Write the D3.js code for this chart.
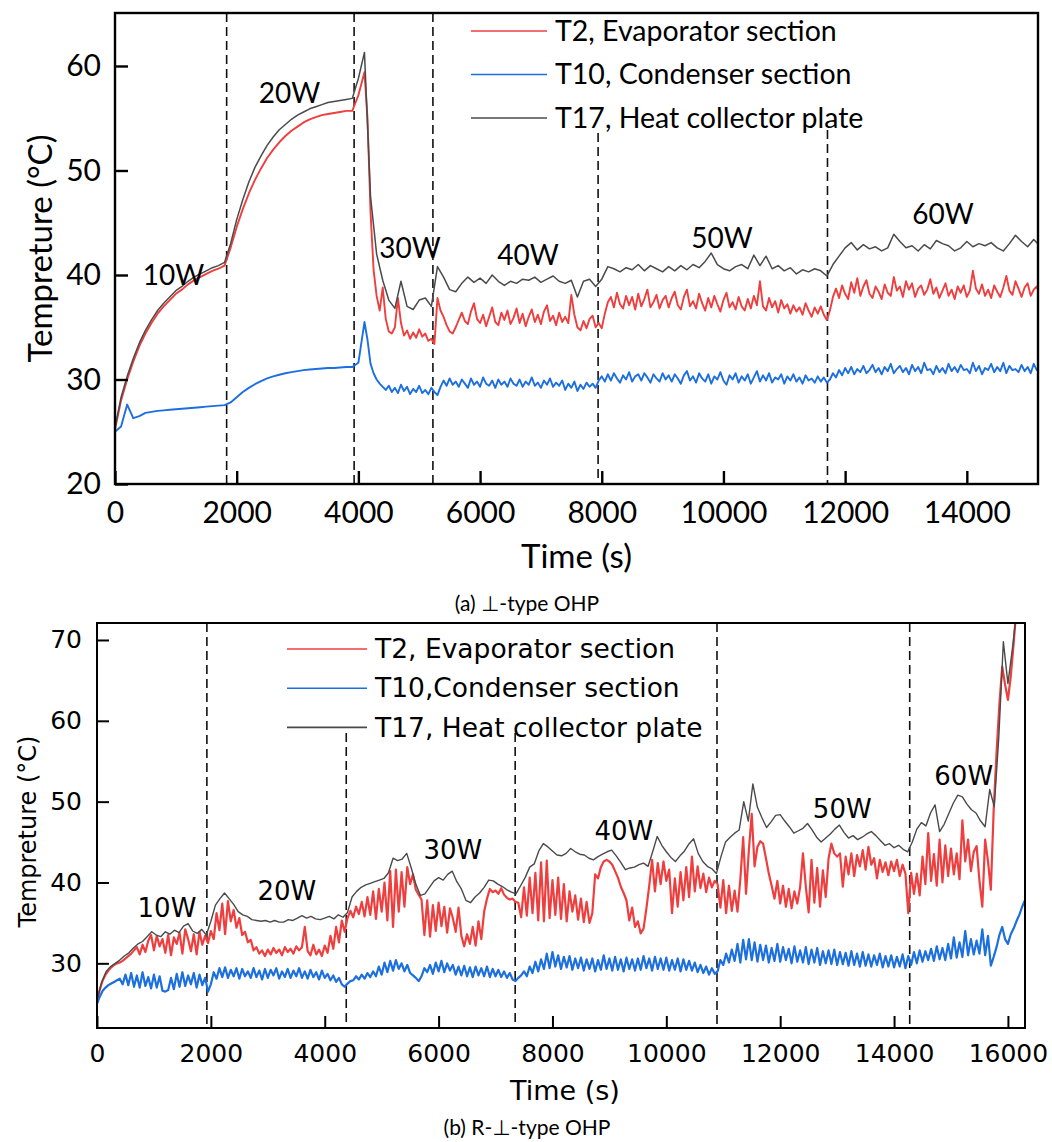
<!DOCTYPE html>
<html><head><meta charset="utf-8">
<script src="https://cdn.jsdelivr.net/npm/d3@7"></script>
<style>body{margin:0;background:#fff}svg{display:block}</style>
</head><body>
<svg id="c" width="1052" height="1142"></svg>
<script>
// ---------------- DATA ----------------
const legendA = ["T2, Evaporator section", "T10, Condenser section", "T17, Heat collector plate"];
const legendB = ["T2, Evaporator section", "T10,Condenser section", "T17, Heat collector plate"];
const powerLabels = ["10W", "20W", "30W", "40W", "50W", "60W"];
const captionA = "(a) \u22A5-type OHP";
const captionB = "(b) R-\u22A5-type OHP";

const xTicksA = [0, 2000, 4000, 6000, 8000, 10000, 12000, 14000];
const yTicksA = [20, 30, 40, 50, 60];
const xTicksB = [0, 2000, 4000, 6000, 8000, 10000, 12000, 14000, 16000];
const yTicksB = [30, 40, 50, 60, 70];

// power switch times (s)
const switchA = [1835, 3930, 5225, 7940, 11710];
const switchB = [1930, 4378, 7345, 10890, 14275];

// label anchor positions in data units [time, temperature]
const labelPosA = [[960, 40.0], [2868, 57.4], [4848, 42.6], [6787, 41.9], [9975, 43.5], [13607, 45.8]];
const labelPosB = [[1229, 36.8], [3336, 38.9], [6251, 44.0], [9254, 46.4], [13090, 49.1], [15224, 53.2]];

// ---- (a) ⊥-type OHP ----
// heating ramps: every 100 s from t = 0 to 4100 s
const aT2Ramp = [25.2,28.0,30.0,31.7,33.2,34.4,35.4,36.3,37.0,37.6,
 38.2,38.6,39.1,39.5,39.8,40.1,40.4,40.6,40.9,42.6,
 44.6,46.3,47.8,49.1,50.2,51.2,52.0,52.7,53.3,53.8,
 54.2,54.6,54.9,55.1,55.3,55.4,55.5,55.6,55.7,55.7,
 57.2,59.4];
const aT10Ramp = [25.0,25.5,27.6,26.3,26.5,26.8,26.9,27.0,27.05,27.1,
 27.15,27.2,27.25,27.3,27.35,27.4,27.45,27.5,27.55,27.8,
 28.3,28.8,29.2,29.55,29.85,30.1,30.3,30.45,30.6,30.7,
 30.8,30.9,30.95,31.0,31.05,31.1,31.1,31.15,31.2,31.2,
 31.6,35.5];
// oscillating operation: every 50 s from t = 4150 to 15200 s
const aT2Run = [55.0,46.0,40.5,38.0,36.6,38.8,35.8,34.6,34.4,35.0,
 37.8,35.4,34.2,34.7,33.9,34.5,34.0,34.8,34.1,34.4,
 33.7,33.9,33.4,37.8,36.6,36.0,35.2,34.6,34.4,35.0,
 35.7,36.4,35.6,35.3,36.5,37.3,35.8,35.4,36.2,35.1,
 36.0,36.9,35.5,35.2,36.4,35.7,36.6,35.3,35.9,36.8,
 35.4,36.3,35.1,36.0,36.7,35.5,36.2,35.3,36.5,37.1,
 35.6,36.1,35.2,36.4,35.5,36.0,35.4,38.1,36.2,35.0,
 34.7,35.6,34.9,35.8,36.1,35.0,35.4,34.9,36.3,37.4,
 37.9,36.9,38.3,37.2,36.8,38.0,37.1,37.9,36.7,38.2,
 37.0,37.7,38.6,36.9,37.4,38.1,36.8,37.6,38.0,36.9,
 37.8,38.4,37.1,36.7,37.9,38.6,37.0,37.5,36.8,38.2,
 37.3,36.6,37.8,36.9,38.0,37.2,36.5,37.6,38.3,36.9,
 37.4,36.7,37.9,37.0,36.6,37.7,36.8,38.0,37.1,39.4,
 37.0,36.6,37.8,36.9,37.5,36.4,37.6,36.8,37.2,36.3,
 37.1,36.5,36.9,36.2,37.3,36.6,36.0,36.9,36.3,37.0,
 36.2,35.7,36.6,37.9,38.7,37.8,39.0,38.2,37.7,39.3,
 38.3,39.7,38.0,38.9,39.5,38.2,37.8,38.9,38.4,37.7,
 39.1,38.3,38.0,39.8,38.5,38.9,37.9,39.4,38.6,39.2,
 37.9,38.7,39.0,38.1,38.6,39.6,38.2,38.8,37.8,38.5,
 39.2,38.0,38.6,37.7,38.9,38.3,39.0,37.9,38.5,40.4,
 38.7,38.2,39.1,38.0,38.6,37.8,39.0,38.4,37.9,38.8,
 39.9,38.5,38.1,39.4,38.7,37.9,38.8,39.2,38.0,38.6,
 38.9,38.1];
const aT10Run = [33.8,31.5,30.6,30.0,29.6,29.3,29.0,29.4,28.8,29.2,
 28.7,29.5,28.9,29.3,28.6,29.1,28.8,29.4,28.7,29.0,
 28.6,29.2,28.8,28.5,29.3,29.9,29.4,30.1,29.5,29.8,
 29.3,30.0,29.6,29.2,30.1,29.5,29.8,29.3,30.2,29.6,
 29.4,29.9,29.2,30.0,29.5,29.8,29.3,30.1,29.6,29.4,
 30.0,29.3,29.8,29.5,30.2,29.4,29.7,29.2,29.9,29.5,
 30.1,29.3,29.7,29.4,29.9,29.0,29.6,29.2,29.8,28.9,
 29.5,29.1,29.7,29.3,29.6,29.2,29.9,30.3,29.8,30.5,
 29.9,30.6,30.1,29.7,30.4,30.0,30.7,29.8,30.3,30.5,
 29.9,30.6,30.2,29.7,30.5,30.1,29.8,30.6,30.0,30.4,
 29.8,30.5,30.1,29.6,30.4,30.8,29.9,30.3,29.7,30.6,
 30.1,29.8,30.5,29.6,30.3,30.0,30.7,29.9,29.5,30.4,
 30.0,30.6,29.7,30.3,29.9,30.5,29.6,30.2,30.8,29.8,
 30.4,29.9,30.6,29.7,30.2,30.0,30.5,29.6,30.3,29.9,
 30.5,29.8,30.2,29.6,30.4,29.9,30.1,29.7,30.3,29.8,
 30.2,29.7,30.0,30.6,30.2,30.9,30.4,31.1,30.6,31.2,
 30.5,31.0,30.7,31.3,30.6,30.9,31.4,30.7,31.1,30.5,
 31.2,30.8,31.5,30.6,31.0,31.3,30.7,31.1,30.5,31.4,
 30.8,31.2,30.6,31.6,30.9,31.0,30.5,31.3,30.7,31.1,
 30.6,31.5,30.8,31.2,30.7,31.4,30.9,31.0,30.6,31.6,
 30.8,31.3,30.5,31.1,30.9,31.5,30.7,31.2,30.8,31.6,
 30.6,31.3,30.9,31.0,30.7,31.4,30.8,31.2,30.6,31.5,
 30.9,31.1];
// heat collector plate: every 100 s from t = 0 to 15200 s
const aT17 = [25.4,28.3,30.3,32.0,33.5,34.7,35.7,36.6,37.3,37.9,
 38.5,38.9,39.4,39.8,40.1,40.4,40.7,40.9,41.2,43.0,
 45.3,47.2,48.9,50.3,51.4,52.4,53.2,53.9,54.4,54.9,
 55.3,55.6,55.9,56.1,56.3,56.5,56.6,56.7,56.8,56.9,
 58.8,61.3,47.5,42.0,39.5,37.6,36.8,39.4,37.0,36.7,
 37.6,37.8,37.0,40.8,39.8,38.6,38.4,39.2,39.8,39.3,
 39.7,39.2,40.0,39.4,39.0,39.4,39.2,39.6,39.5,39.8,
 39.3,39.6,39.9,39.4,39.2,39.5,37.9,39.4,39.6,38.9,
 39.6,40.8,40.6,40.3,40.7,40.5,41.0,40.4,40.9,40.6,
 40.3,40.8,40.4,40.9,40.5,41.0,40.7,41.3,42.1,41.0,
 40.6,40.4,40.8,41.0,40.6,41.9,40.9,41.8,40.6,40.9,
 40.4,40.7,40.1,40.5,40.3,40.6,40.4,39.9,41.0,41.8,
 42.6,43.1,42.4,42.9,42.5,42.7,42.3,42.6,43.9,43.2,
 42.6,42.8,42.3,42.9,42.5,43.3,43.0,42.8,42.3,42.6,
 43.2,42.7,43.0,42.8,43.1,42.6,42.3,43.0,43.8,43.2,
 42.7,43.4,42.8];

// ---- (b) R-⊥-type OHP ----
// every 50 s from t = 0 to 16300 s
const bT2 = [25.4,26.8,27.9,28.6,29.1,29.5,29.8,30.0,30.1,30.3,
 30.6,30.9,31.2,31.6,32.0,31.1,32.3,31.4,32.8,33.5,
 31.6,33.4,32.1,33.0,31.3,33.5,31.0,33.2,32.4,33.8,
 31.2,34.2,33.0,31.5,33.6,31.1,33.9,32.3,33.4,32.5,
 34.0,33.0,36.2,34.1,37.4,33.6,37.7,35.2,36.6,34.4,
 35.6,33.5,33.9,32.6,32.9,31.6,32.0,31.2,31.6,30.9,
 31.7,31.1,31.9,31.3,31.7,31.0,32.0,31.4,31.8,31.2,
 32.1,31.6,32.0,34.5,31.5,31.0,32.3,31.1,31.7,30.9,
 32.2,31.3,33.4,31.8,34.5,32.6,35.3,33.9,35.6,36.5,
 35.7,37.0,36.1,37.6,35.8,38.2,36.0,38.9,35.5,39.2,
 36.4,40.0,35.3,41.4,34.5,41.6,36.4,41.3,37.0,41.9,
 39.8,41.0,39.1,38.5,37.9,33.5,37.8,33.3,37.2,34.0,
 37.5,34.6,37.0,33.8,36.8,35.6,33.9,36.9,33.4,32.1,
 33.6,32.4,34.5,32.2,35.2,33.0,36.4,38.0,39.2,38.8,
 39.0,38.6,39.3,38.5,38.1,37.9,38.0,37.6,37.5,35.7,
 39.4,35.9,40.6,36.2,41.2,35.3,42.5,35.2,42.7,35.6,
 40.3,36.0,40.6,35.5,39.8,35.2,38.9,36.4,38.4,35.4,
 38.0,35.1,37.6,35.0,36.2,41.0,40.5,41.9,42.6,42.8,
 42.6,42.2,41.4,40.6,39.5,38.7,37.8,35.3,36.9,34.5,
 35.2,33.7,34.3,36.8,39.6,42.8,38.9,42.4,39.8,42.6,
 40.2,41.6,36.2,40.5,37.0,41.3,37.8,41.9,38.2,43.2,
 38.9,42.0,39.3,41.1,38.8,40.6,39.4,40.2,39.8,36.9,
 40.3,36.2,39.6,36.5,39.0,36.4,40.4,45.6,38.6,44.0,
 48.5,42.0,44.4,45.1,44.8,43.0,41.1,39.6,38.0,40.2,
 37.4,39.6,37.0,39.2,36.8,38.9,37.4,39.4,43.6,39.5,
 36.3,42.8,37.5,41.8,37.0,41.5,38.2,43.0,44.8,43.6,
 43.2,43.6,39.5,43.2,41.0,43.6,40.8,43.4,42.0,44.0,
 41.6,44.4,42.2,43.0,40.5,42.8,41.3,42.5,40.9,42.6,
 41.4,42.8,40.8,42.2,41.1,36.2,41.2,38.6,41.1,38.4,
 43.2,39.8,46.1,40.2,43.5,39.6,45.3,40.0,44.6,40.8,
 44.2,41.0,43.6,40.4,47.7,42.6,45.3,41.4,43.8,44.5,
 40.2,37.0,45.3,42.6,39.1,49.0,56.0,62.0,66.7,64.5,
 62.6,65.5,69.5,74.0,77.0,80.0,82.0];
const bT10 = [25.0,25.9,26.6,27.0,27.3,27.5,27.7,27.9,28.1,27.4,
 28.6,27.3,28.8,27.1,28.5,27.0,28.9,27.2,28.3,26.9,
 28.6,27.0,28.4,26.6,26.5,26.7,28.2,26.8,28.7,27.1,
 28.9,27.2,28.5,27.4,28.8,27.0,28.6,27.3,28.2,26.5,
 27.4,28.9,28.1,29.4,28.3,29.5,28.2,29.2,28.4,29.4,
 28.1,29.3,28.4,29.0,28.2,29.4,28.3,29.1,28.0,29.3,
 28.2,29.2,28.5,29.4,28.1,29.0,28.3,29.3,28.2,29.1,
 28.4,29.4,28.2,29.0,28.1,29.2,28.3,28.9,28.0,29.1,
 28.2,28.7,27.9,28.5,27.7,28.2,27.4,27.1,27.5,27.8,
 27.9,28.4,28.0,28.6,28.1,28.8,28.3,29.0,28.4,29.6,
 28.6,30.1,28.9,30.3,29.1,30.4,29.3,30.0,29.0,29.8,
 28.8,28.5,28.2,27.8,28.4,29.4,28.9,29.8,28.7,30.1,
 29.0,30.3,28.9,30.0,29.1,29.8,28.6,29.6,28.5,29.7,
 28.4,29.5,28.3,29.6,28.5,29.4,28.4,29.6,28.3,29.3,
 28.4,29.2,28.3,29.0,28.2,28.8,28.0,27.8,28.2,28.5,
 29.0,28.4,29.6,28.8,30.2,29.0,30.5,29.3,31.2,29.4,
 31.4,29.6,31.0,29.3,30.8,29.5,30.9,29.2,30.6,29.4,
 30.7,29.1,30.5,29.3,30.6,29.0,30.4,29.2,31.0,29.3,
 30.6,29.1,30.8,29.2,30.5,29.0,30.7,29.3,30.5,29.1,
 30.6,29.2,30.9,29.4,30.6,29.1,30.8,29.3,30.6,29.2,
 30.7,29.1,30.4,29.2,30.6,29.0,30.5,29.2,30.3,29.1,
 30.1,28.9,29.8,28.8,29.6,28.6,29.4,28.7,29.0,30.4,
 29.8,31.2,30.1,31.7,30.3,32.4,30.1,32.9,30.5,33.0,
 30.4,32.6,30.2,32.3,30.4,32.2,30.1,31.9,30.3,32.4,
 30.2,32.0,30.4,31.8,30.0,32.1,30.2,31.6,30.1,32.0,
 29.9,31.7,30.1,31.9,29.8,31.5,30.0,31.6,29.9,31.7,
 29.8,31.4,29.9,31.3,29.7,31.5,29.8,31.2,29.6,31.4,
 29.7,31.1,29.6,31.0,29.8,31.2,29.5,30.9,29.6,31.0,
 29.5,30.8,29.6,31.1,29.4,30.9,29.8,31.4,30.0,31.6,
 30.2,31.5,30.4,31.8,30.3,32.1,30.5,31.9,30.4,32.4,
 30.6,33.2,30.7,32.6,30.8,34.0,31.0,33.0,31.1,32.8,
 31.2,34.2,31.0,33.4,29.7,30.8,32.0,33.5,34.5,33.0,
 32.4,33.6,34.3,35.2,36.0,37.0,37.8];
// heat collector plate: every 80 s from t = 0 to 16320 s
const bT17 = [25.4,27.6,29.0,29.6,30.0,30.4,30.9,31.3,31.9,32.4,
 32.7,33.3,33.9,33.5,33.3,33.9,33.6,34.1,33.8,34.6,
 34.9,34.0,33.7,34.2,33.5,35.2,37.2,38.0,38.7,38.0,
 37.3,36.4,36.0,35.8,35.4,35.3,35.2,35.3,35.1,35.3,
 35.1,35.1,35.4,35.3,35.6,35.9,35.6,35.8,35.5,35.4,
 35.6,35.8,35.5,36.0,35.7,36.3,38.2,38.9,39.4,39.7,
 39.9,40.1,40.3,40.5,41.2,43.0,42.7,42.9,43.6,41.8,
 39.8,38.4,38.6,39.4,40.2,40.6,40.3,41.0,41.4,40.1,
 39.2,37.8,37.5,38.2,38.7,39.4,40.3,40.2,39.8,39.5,
 39.1,38.8,38.6,39.6,40.6,41.9,42.3,43.9,44.8,44.4,
 43.9,43.4,43.3,43.6,44.2,43.8,43.5,43.4,43.0,42.8,
 43.2,43.5,43.8,44.0,43.3,42.5,41.6,41.8,41.9,42.2,
 42.4,42.0,43.8,45.7,44.6,43.8,43.1,42.6,43.3,43.9,
 44.8,45.4,43.6,42.6,42.0,41.7,41.1,43.2,45.0,45.6,
 46.1,46.5,50.0,47.6,52.2,49.3,48.0,46.8,47.5,48.3,
 48.4,47.6,46.9,46.1,46.4,46.7,47.3,46.5,45.6,45.0,
 45.5,46.0,46.6,47.1,46.2,45.5,45.8,45.3,45.6,46.0,
 46.3,45.8,45.2,44.6,44.8,44.3,44.6,44.1,43.8,45.0,
 46.6,47.4,47.0,48.6,49.6,46.3,47.2,48.5,49.8,50.8,
 50.6,49.7,49.0,48.6,47.6,46.9,51.5,49.4,58.0,69.8,
 64.6,69.0,74,78,80];

// ---------------- DRAWING ----------------
const svg = d3.select("#c");
svg.append("rect").attr("width", 1052).attr("height", 1142).attr("fill", "#fff");
const RED = "#ef3e3e", BLUE = "#1c6fde", GRAY = "#4a4a4a";

function toPoints(segments) {
  return segments.flatMap(sg => sg.values.map((v, i) => ({ t: sg.t0 + i * sg.step, v })));
}

function drawPanel(p) {
  const g = svg.append("g");
  const x = d3.scaleLinear().domain(p.xDomain).range([p.left, p.right]);
  const y = d3.scaleLinear().domain(p.yDomain).range([p.bottom, p.top]);
  const clipId = "clip" + p.id;
  svg.append("clipPath").attr("id", clipId).append("rect")
    .attr("x", p.left).attr("y", p.top).attr("width", p.right - p.left).attr("height", p.bottom - p.top);

  // dashed power-switch lines
  p.switches.forEach((t, i) => {
    g.append("line").attr("x1", x(t)).attr("x2", x(t)).attr("y1", p.dashTop[i]).attr("y2", p.bottom)
      .attr("stroke", "#111").attr("stroke-width", 1.6).attr("stroke-dasharray", "9,5");
  });

  // series
  const line = d3.line().x(d => x(d.t)).y(d => y(d.v));
  p.series.forEach(s => {
    g.append("path").attr("clip-path", `url(#${clipId})`)
      .datum(toPoints(s.segments))
      .attr("d", line).attr("fill", "none").attr("stroke", s.color)
      .attr("stroke-width", s.width).attr("stroke-linejoin", "round");
  });

  // axes
  const xAxis = d3.axisBottom(x).tickValues(p.xTicks).tickSizeInner(-p.tick).tickSizeOuter(0)
    .tickPadding(p.xPad).tickFormat(d3.format("d"));
  const yAxis = d3.axisLeft(y).tickValues(p.yTicks).tickSizeInner(-p.tick).tickSizeOuter(0)
    .tickPadding(p.yPad).tickFormat(d3.format("d"));
  const gx = g.append("g").attr("transform", `translate(0,${p.bottom})`).call(xAxis);
  const gy = g.append("g").attr("transform", `translate(${p.left},0)`).call(yAxis);
  [gx, gy].forEach(a => {
    a.select(".domain").remove();
    a.selectAll(".tick line").attr("stroke", "#000").attr("stroke-width", p.frameW);
    a.selectAll(".tick text").attr("fill", "#000").style("font-family", p.font).style("font-size", p.tickFont + "px");
  });

  // frame
  g.append("rect").attr("x", p.left).attr("y", p.top).attr("width", p.right - p.left)
    .attr("height", p.bottom - p.top).attr("fill", "none").attr("stroke", "#000").attr("stroke-width", p.frameW);

  // legend
  p.series.forEach((s, i) => {
    const ly = p.legend.y0 + i * p.legend.dy;
    g.append("line").attr("x1", p.legend.x0).attr("x2", p.legend.x1).attr("y1", ly).attr("y2", ly)
      .attr("stroke", s.color).attr("stroke-width", 1.6);
    g.append("text").attr("x", p.legend.tx).attr("y", ly).attr("dy", "0.35em")
      .style("font-family", p.font).style("font-size", p.legend.font + "px").attr("fill", "#000").text(s.name);
  });

  // power labels
  powerLabels.forEach((lab, i) => {
    g.append("text").attr("x", x(p.labelPos[i][0])).attr("y", y(p.labelPos[i][1])).attr("dy", "0.35em")
      .attr("text-anchor", "middle").style("font-family", p.font).style("font-size", p.labelFont + "px")
      .attr("fill", "#000").text(lab);
  });

  // axis titles
  g.append("text").attr("x", (p.left + p.right) / 2 + p.xTitleDx).attr("y", p.xTitleY).attr("text-anchor", "middle")
    .style("font-family", p.font).style("font-size", p.xTitleFont + "px").attr("fill", "#000").text("Time (s)");
  g.append("text").attr("transform", `translate(${p.yTitleX},${(p.top + p.bottom) / 2 + p.yTitleDy}) rotate(-90)`)
    .attr("text-anchor", "middle").attr("dy", "0.35em")
    .style("font-family", p.font).style("font-size", p.yTitleFont + "px").attr("fill", "#000").text("Tempreture (\u00B0C)");

  // caption
  g.append("text").attr("x", p.capX).attr("y", p.capY).attr("text-anchor", "middle").attr("dy", "0.35em")
    .style("font-family", "Lato, 'DejaVu Sans', sans-serif").style("font-size", "21px").attr("fill", "#000").text(p.caption);
}

drawPanel({
  id: "a", left: 115, right: 1038, top: 13, bottom: 484,
  xDomain: [0, 15170], yDomain: [20, 65.07],
  xTicks: xTicksA, yTicks: yTicksA, tick: 13, xPad: 18, yPad: 14, frameW: 2.4,
  font: "Lato, 'DejaVu Sans', sans-serif", tickFont: 30, labelFont: 28, xTitleFont: 33, yTitleFont: 33,
  switches: switchA, dashTop: [13, 13, 13, 133, 130],
  series: [
    { name: legendA[0], color: RED, width: 1.9, segments: [{ t0: 0, step: 100, values: aT2Ramp }, { t0: 4150, step: 50, values: aT2Run }] },
    { name: legendA[1], color: BLUE, width: 1.9, segments: [{ t0: 0, step: 100, values: aT10Ramp }, { t0: 4150, step: 50, values: aT10Run }] },
    { name: legendA[2], color: GRAY, width: 1.5, segments: [{ t0: 0, step: 100, values: aT17 }] }
  ],
  legend: { x0: 471, x1: 547, tx: 555, y0: 31, dy: 43.5, font: 28.5 },
  labelPos: labelPosA,
  xTitleY: 568, xTitleDx: 0, yTitleX: 40, yTitleDy: 0,
  caption: captionA, capX: 527, capY: 604
});

drawPanel({
  id: "b", left: 97, right: 1025, top: 623, bottom: 1028,
  xDomain: [0, 16300], yDomain: [22, 72.1],
  xTicks: xTicksB, yTicks: yTicksB, tick: 12, xPad: 16, yPad: 15, frameW: 2,
  font: "'DejaVu Sans', sans-serif", tickFont: 25, labelFont: 26, xTitleFont: 27, yTitleFont: 24,
  switches: switchB, dashTop: [623, 733, 733, 623, 623],
  series: [
    { name: legendB[0], color: RED, width: 2.2, segments: [{ t0: 0, step: 50, values: bT2 }] },
    { name: legendB[1], color: BLUE, width: 2.2, segments: [{ t0: 0, step: 50, values: bT10 }] },
    { name: legendB[2], color: GRAY, width: 1.4, segments: [{ t0: 0, step: 80, values: bT17 }] }
  ],
  legend: { x0: 287, x1: 367, tx: 375, y0: 649, dy: 39.2, font: 26.5 },
  labelPos: labelPosB,
  xTitleY: 1100, xTitleDx: 4, yTitleX: 28, yTitleDy: 6,
  caption: captionB, capX: 527, capY: 1128
});
</script>
</body></html>
